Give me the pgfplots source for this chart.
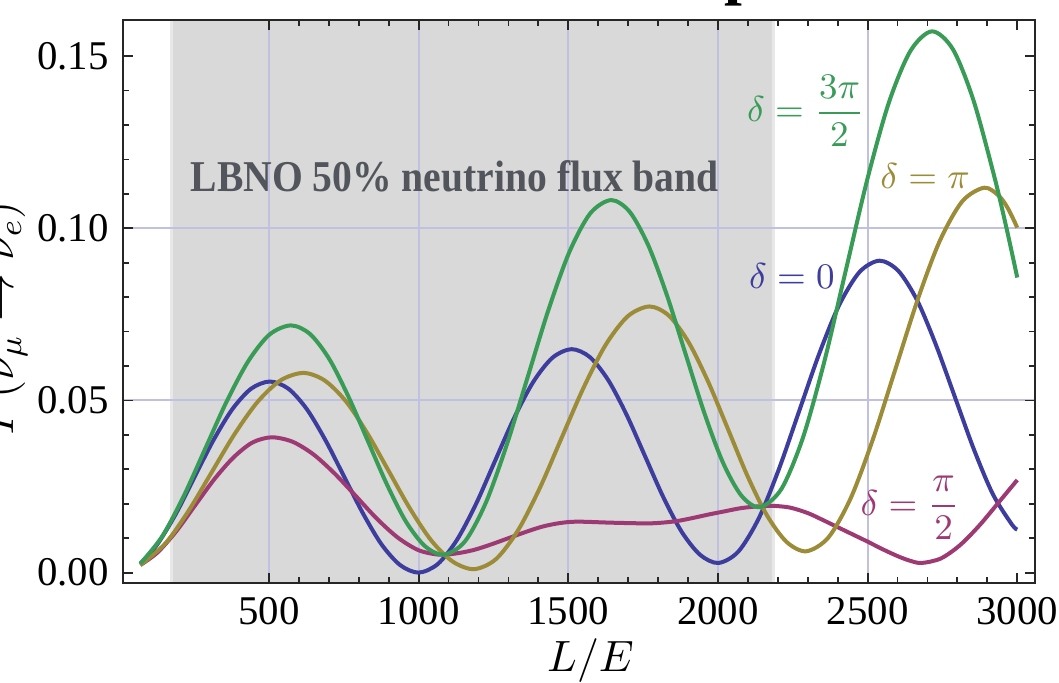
\documentclass[border=0pt]{standalone}
\usepackage[no-math]{fontspec}
\setmainfont{Liberation Serif}
\usepackage{pgfplots}
\pgfplotsset{compat=1.18}
\definecolor{cblue}{RGB}{61,61,158}
\definecolor{cmag}{RGB}{158,58,115}
\definecolor{colive}{RGB}{156,140,56}
\definecolor{cgreen}{RGB}{56,156,86}
\definecolor{cband}{RGB}{217,217,217}
\definecolor{cbandedge}{RGB}{232,232,232}
\definecolor{cgrid}{RGB}{192,192,224}
\definecolor{ctext}{RGB}{82,86,92}
\begin{document}
\begin{tikzpicture}
\begin{axis}[
  set layers,
  scale only axis, width=228.075pt, height=140.825pt,
  at={(0,0)}, anchor=south west,
  xmin=11.2, xmax=3059.3, ymin=-0.0031, ymax=0.1605,
  xtick={500,1000,1500,2000,2500,3000}, minor x tick num=4,
  ytick={0,0.05,0.10,0.15}, minor y tick num=4,
  tick align=inside, xtick pos=both, ytick pos=both,
  xticklabel pos=lower, yticklabel pos=left,
  major tick length=2.5pt, minor tick length=1.6pt,
  axis line style={draw=black!85, line width=0.55pt},
  tick style={draw=black!85, line width=0.45pt},
  tick label style={font=\fontsize{10.2}{12}\selectfont},
  /pgf/number format/assume math mode=true,
  xticklabel style={/pgf/number format/1000 sep={}},
  yticklabel style={/pgf/number format/.cd, fixed, fixed zerofill, precision=2},
  extra x ticks={500,1000,1500,2000,2500}, extra x tick labels={},
  extra x tick style={grid=major, grid style={cgrid, line width=0.5pt}},
  extra y ticks={0.05,0.10}, extra y tick labels={},
  extra y tick style={grid=major, grid style={cgrid, line width=0.5pt}},
]
% flux band
\addplot[draw=none, fill=cbandedge, on layer=axis background] coordinates {(168,-0.0031) (2192,-0.0031) (2192,0.1605) (168,0.1605)};
\addplot[draw=none, fill=cband, on layer=axis background] coordinates {(180,-0.0031) (2180,-0.0031) (2180,0.1605) (180,0.1605)};

% delta = 0
\addplot[cblue, line width=1pt, smooth] coordinates {
(70,0.0026) (126,0.0081) (189,0.0171) (251.5,0.0278) (314,0.0384) (377,0.0474) (440,0.0534) (503,0.0555)
(565,0.0534) (627,0.0474) (689,0.0384) (751.5,0.0278) (814,0.0172) (876,0.0082) (938,0.0022) (1000,0.0000)
(1064,0.0025) (1128,0.0095) (1192,0.0200) (1255.5,0.0325) (1319,0.0449) (1383,0.0554) (1447,0.0624) (1511,0.0649)
(1572,0.0626) (1633.5,0.0559) (1695,0.0458) (1756,0.0339) (1817,0.0220) (1878.5,0.0119) (1940,0.0052) (2001,0.0028)
(2068,0.0061) (2136,0.0157) (2203,0.0299) (2270.5,0.0467) (2338,0.0635) (2405,0.0777) (2473,0.0873) (2540,0.0906)
(2603,0.0876) (2666,0.0790) (2729,0.0660) (2792.5,0.0508) (2856,0.0356) (2919,0.0227) (2982,0.0140) (3000,0.0125)};

% delta = pi/2
\addplot[cmag, line width=1pt, smooth] coordinates {
(70,0.0022) (127,0.0058) (191,0.0121) (254.5,0.0197) (318,0.0272) (382,0.0335) (445,0.0378) (509,0.0393)
(579,0.0380) (649,0.0343) (719,0.0288) (789.5,0.0223) (860,0.0157) (930,0.0102) (1000,0.0065) (1070,0.0052)
(1127.5,0.0056) (1185,0.0066) (1242.5,0.0082) (1300,0.0100) (1357.5,0.0118) (1415,0.0134) (1472.5,0.0144) (1530,0.0148)
(1645,0.0145) (1760,0.0143) (1812.5,0.0145) (1865,0.0150) (1917.5,0.0159) (1970,0.0169) (2022.5,0.0178) (2075,0.0187) (2127.5,0.0192) (2180,0.0194)
(2240,0.0189) (2300,0.0173) (2350,0.0153) (2400,0.0132) (2450,0.0111) (2500,0.0090) (2550,0.0068) (2600,0.0048) (2640,0.0035) (2680,0.0028)
(2744.5,0.0041) (2809,0.0080) (2873.5,0.0137) (2938,0.0204) (3000,0.0269)};

% delta = pi
\addplot[colive, line width=1pt, smooth] coordinates {
(70,0.0022) (154,0.0085) (231,0.0179) (307.5,0.0290) (384,0.0401) (461,0.0495) (538,0.0558) (615,0.0580)
(686,0.0558) (757.5,0.0497) (829,0.0404) (900,0.0295) (971,0.0186) (1042.5,0.0093) (1114,0.0032) (1185,0.0010)
(1258,0.0039) (1331.5,0.0122) (1405,0.0246) (1478,0.0392) (1551,0.0537) (1624.5,0.0661) (1698,0.0744) (1771,0.0773)
(1836.5,0.0746) (1902,0.0669) (1967.5,0.0554) (2033,0.0418) (2098.5,0.0281) (2164,0.0166) (2229.5,0.0089) (2295,0.0062)
(2369,0.0102) (2444,0.0217) (2518,0.0388) (2592.5,0.0590) (2667,0.0792) (2741,0.0963) (2816,0.1078) (2890,0.1118)
(2940,0.1093) (2970,0.1056) (3000,0.1002)};

% delta = 3pi/2
\addplot[cgreen, line width=1pt, smooth] coordinates {
(70,0.0026) (143,0.0105) (215,0.0222) (286.5,0.0359) (358,0.0496) (430,0.0613) (501,0.0691) (573,0.0718)
(637,0.0693) (701,0.0621) (765,0.0512) (829,0.0385) (893,0.0258) (957,0.0149) (1021,0.0077) (1085,0.0052)
(1155,0.0091) (1224.5,0.0203) (1294,0.0370) (1364,0.0567) (1434,0.0764) (1503.5,0.0931) (1573,0.1043) (1643,0.1082)
(1705,0.1048) (1767,0.0951) (1829,0.0807) (1891.5,0.0636) (1954,0.0465) (2016,0.0321) (2078,0.0224) (2140,0.0190)
(2212,0.0243) (2284,0.0392) (2356,0.0615) (2427.5,0.0879) (2499,0.1142) (2571,0.1365) (2643,0.1515) (2715,0.1572)
(2785,0.1520) (2854,0.1371) (2924,0.1148) (2966,0.0993) (3000,0.0857)};

\node[anchor=base west, inner sep=0pt, text=ctext, font=\fontsize{11}{13}\selectfont\bfseries, xscale=0.9] at (axis cs:236,0.1108) {LBNO 50\% neutrino flux band};
\node[text=cgreen, font=\fontsize{9}{11}\selectfont, inner sep=0pt] at (axis cs:2294,0.1341) {$\delta = {\displaystyle\frac{3\pi}{2}}$};
\node[text=colive, font=\fontsize{9}{11}\selectfont, anchor=base, inner sep=0pt] at (axis cs:2692,0.1117) {$\delta = \pi$};
\node[text=cblue, font=\fontsize{9}{11}\selectfont, anchor=base, inner sep=0pt] at (axis cs:2247,0.0824) {$\delta = 0$};
\node[text=cmag, font=\fontsize{9}{11}\selectfont, inner sep=0pt] at (axis cs:2642,0.0188) {$\delta = {\displaystyle\frac{\pi}{2}}$};
\end{axis}
\node[rotate=90, anchor=base, inner sep=0pt, font=\fontsize{11.5}{13}\selectfont] at (-27.2pt,66.3pt) {$P(\nu_\mu \rightarrow \nu_e)$};
\node[anchor=base, inner sep=0pt, font=\fontsize{11}{13}\selectfont] at (116.95pt,-22.1pt) {$L/E$};
\node[anchor=base west, inner sep=0pt, font=\fontsize{16}{18}\selectfont\bfseries] at (150.25pt,147.8pt) {p};
\pgfresetboundingbox
\useasboundingbox (-30.675pt,-24.925pt) rectangle (234.075pt,145.825pt);
\end{tikzpicture}
\end{document}
